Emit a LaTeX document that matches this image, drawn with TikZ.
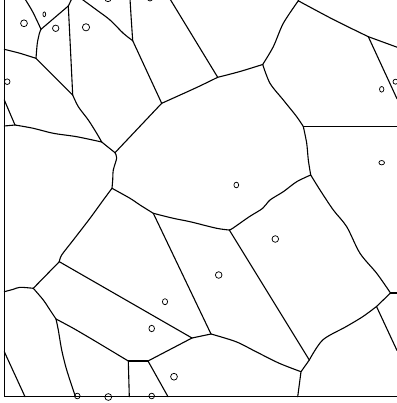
\documentclass[tikz,border=0pt]{standalone}
\begin{document}
\begin{tikzpicture}[x=1pt,y=-1pt,
  gb/.style={line width=1.1pt,black,line join=round,line cap=round},
  frame/.style={line width=1.5pt,black},
  grainpt/.style={line width=0.75pt,black}]
\useasboundingbox (0,0) rectangle (396,403);
% vertices
\coordinate (V1) at (41,29.3);
\coordinate (V2) at (68.3,6);
\coordinate (V3) at (36,58.3);
\coordinate (V4) at (72.7,95);
\coordinate (V5) at (15,125);
\coordinate (V6) at (101.7,142);
\coordinate (V7) at (115,152.7);
\coordinate (V8) at (132.7,40.7);
\coordinate (V9) at (161.7,103.3);
\coordinate (V10) at (217.7,77.3);
\coordinate (V11) at (262.7,64.5);
\coordinate (V12) at (298.3,0.8);
\coordinate (V13) at (368.3,36.7);
\coordinate (V14) at (303.3,126.5);
\coordinate (V15) at (310.7,175);
\coordinate (V16) at (112,188.3);
\coordinate (V17) at (153.3,213.3);
\coordinate (V18) at (229.3,230);
\coordinate (V19) at (59.3,261.7);
\coordinate (V20) at (33.3,288.3);
\coordinate (V21) at (56,319);
\coordinate (V22) at (128.3,361);
\coordinate (V23) at (148,361);
\coordinate (V24) at (192,338);
\coordinate (V25) at (211,334);
\coordinate (V26) at (301,371.7);
\coordinate (V27) at (309.3,360);
\coordinate (V28) at (376.5,306.5);
\coordinate (V29) at (390.5,293);
% free ends
\coordinate (T1) at (25,-1);
\coordinate (T2) at (71.7,-1);
\coordinate (T3) at (81.7,-1);
\coordinate (T4) at (130,-1);
\coordinate (T5) at (170,-1);
\coordinate (T6) at (299.5,-3);
\coordinate (L1) at (4.3,49.3);
\coordinate (L2) at (4.3,100);
\coordinate (L3) at (4.3,126);
\coordinate (L4) at (4.3,291.7);
\coordinate (L5) at (4.3,351.7);
\coordinate (R1) at (397,47.2);
\coordinate (R2) at (397,98.8);
\coordinate (R3) at (397,126.5);
\coordinate (R4) at (397,293);
\coordinate (R5) at (397,350.5);
\coordinate (B1) at (25,396.7);
\coordinate (B2) at (75.5,396.7);
\coordinate (B3) at (129.3,396.7);
\coordinate (B4) at (168,396.7);
\coordinate (B5) at (297.7,396.7);
% grain boundaries
\draw[gb] plot[smooth] coordinates {(T1) (31.7,10) (36.7,20) (V1)};
\draw[gb] (V1) -- (V2);
\draw[gb] (V2) -- (T2);
\draw[gb] plot[smooth] coordinates {(V2) (70.5,50) (V4)};
\draw[gb] plot[smooth] coordinates {(V1) (39.5,33) (37.3,43.3) (V3)};
\draw[gb] plot[smooth] coordinates {(V3) (20,53.3) (10,50.7) (L1)};
\draw[gb] (V3) -- (V4);
\draw[gb] plot[smooth] coordinates {(V4) (78.3,106.7) (88.3,120) (96.7,133.3) (V6)};
\draw[gb] (L2) -- (V5);
\draw[gb] (V5) -- (L3);
\draw[gb] plot[smooth] coordinates {(V5) (33.3,128.3) (53.3,133.3) (76.7,136.7) (V6)};
\draw[gb] (V6) -- (V7);
\draw[gb] (V7) -- (V9);
\draw[gb] plot[smooth] coordinates {(V7) (116.7,158) (113.3,170) (112.7,180) (V16)};
\draw[gb] plot[smooth] coordinates {(T3) (96.7,10) (110,20) (123.3,33.3) (V8)};
\draw[gb] plot[smooth] coordinates {(T4) (131.3,20) (V8)};
\draw[gb] (V8) -- (V9);
\draw[gb] (T5) -- (V10);
\draw[gb] plot[smooth] coordinates {(V10) (196,87.8) (V9)};
\draw[gb] plot[smooth] coordinates {(V10) (239.3,71.7) (V11)};
\draw[gb] plot[smooth] coordinates {(V11) (273.3,46.7) (283.3,23.3) (V12)};
\draw[gb] (V12) -- (T6);
\draw[gb] plot[smooth] coordinates {(V12) (333.3,19.5) (V13)};
\draw[gb] (V13) -- (R1);
\draw[gb] (V13) -- (R2);
\draw[gb] plot[smooth] coordinates {(V11) (270,83.3) (283.3,100) (296.7,116.7) (V14)};
\draw[gb] (V14) -- (R3);
\draw[gb] plot[smooth] coordinates {(V14) (306.7,143.3) (308.3,160) (V15)};
\draw[gb] plot[smooth] coordinates {(V15) (296.7,181.7) (283.3,191.7) (270,200) (262.7,208.3) (249.3,216.7) (232.7,228.3) (V18)};
\draw[gb] plot[smooth] coordinates {(V15) (320,190) (333.3,210) (346.7,226.7) (360,253.3) (376.7,273.3) (V29)};
\draw[gb] (V29) -- (R4);
\draw[gb] (V29) -- (V28);
\draw[gb] (V28) -- (R5);
\draw[gb] plot[smooth] coordinates {(V28) (362.7,316.7) (346,326.7) (322.7,340) (V27)};
\draw[gb] (V27) -- (V26);
\draw[gb] (V26) -- (B5);
\draw[gb] plot[smooth] coordinates {(V26) (279.3,363.3) (256,351.7) (236,341.7) (V25)};
\draw[gb] (V25) -- (V24);
\draw[gb] (V25) -- (V17);
\draw[gb] (V24) -- (V19);
\draw[gb] (V24) -- (V23);
\draw[gb] (V23) -- (V22);
\draw[gb] (V23) -- (B4);
\draw[gb] (V22) -- (B3);
\draw[gb] plot[smooth] coordinates {(V22) (110,350) (93.3,340) (73.3,328.3) (V21)};
\draw[gb] plot[smooth] coordinates {(V21) (58.3,330) (61.7,350) (66.7,370) (B2)};
\draw[gb] plot[smooth] coordinates {(V21) (50,310) (43.3,300) (V20)};
\draw[gb] plot[smooth] coordinates {(V20) (20,287.3) (13.3,289.3) (L4)};
\draw[gb] (V20) -- (V19);
\draw[gb] plot[smooth] coordinates {(V19) (61.7,255) (73.3,240) (90,218.3) (103.3,200) (V16)};
\draw[gb] plot[smooth] coordinates {(V16) (130,198.3) (140,205) (V17)};
\draw[gb] plot[smooth] coordinates {(V17) (173.3,218.3) (190,221.7) (216.7,228.3) (V18)};
\draw[gb] (V18) -- (V27);
\draw[gb] (L5) -- (B1);
% small grains
\draw[grainpt] (44.3,14.3) ellipse [x radius=1.4, y radius=2.4];
\draw[grainpt] (24,23.3) circle [radius=3.4];
\draw[grainpt] (55.7,28.3) circle [radius=3.2];
\draw[grainpt] (86,27.3) circle [radius=3.6];
\draw[grainpt] (7.2,81.7) circle [radius=2.8];
\draw[grainpt] (108,-1.5) circle [radius=3.2];
\draw[grainpt] (150,-1.5) circle [radius=2.5];
\draw[grainpt] (381.7,89.3) ellipse [x radius=2.2, y radius=2.8];
\draw[grainpt] (395.5,81.7) circle [radius=2.5];
\draw[grainpt] (381.7,162.7) ellipse [x radius=2.8, y radius=2.2];
\draw[grainpt] (236.3,185) ellipse [x radius=2.4, y radius=2.8];
\draw[grainpt] (275.3,239) circle [radius=3.3];
\draw[grainpt] (218.7,275) circle [radius=3.3];
\draw[grainpt] (165,301.7) ellipse [x radius=2.6, y radius=3];
\draw[grainpt] (151.7,328.5) ellipse [x radius=2.8, y radius=3.2];
\draw[grainpt] (174,376.7) circle [radius=3.4];
\draw[grainpt] (108.3,397) circle [radius=3.4];
\draw[grainpt] (77.3,396) circle [radius=2.8];
\draw[grainpt] (151.7,396) circle [radius=2.8];
% frame
\draw[frame] (4.3,-1) -- (4.3,396.7) -- (397,396.7);
\end{tikzpicture}
\end{document}
